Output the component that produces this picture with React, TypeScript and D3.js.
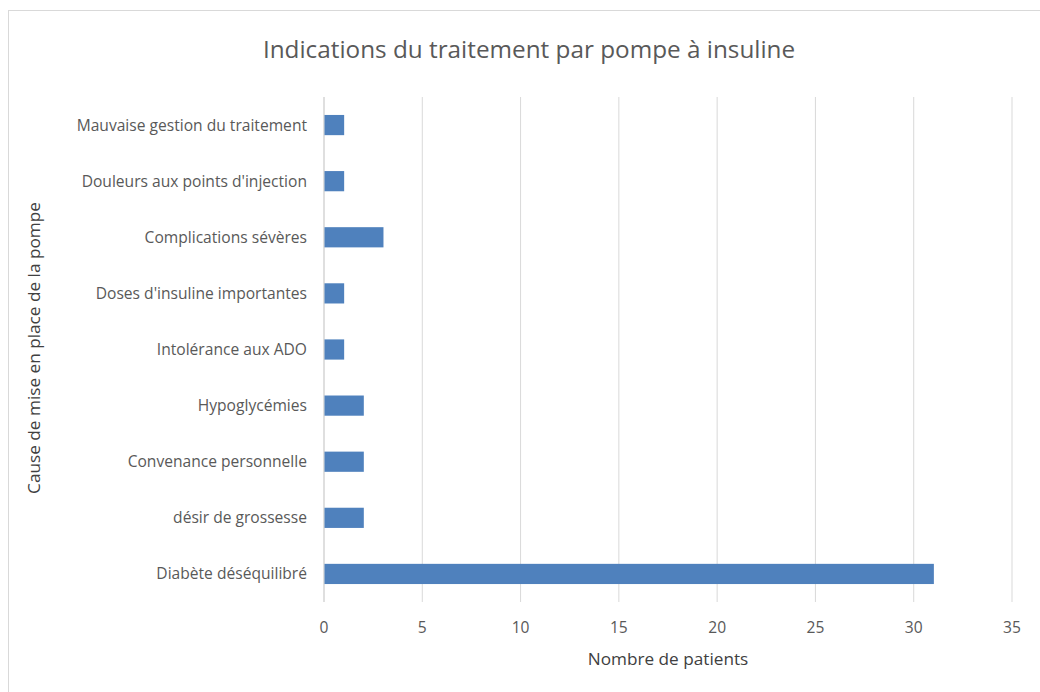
import React from "react";
import * as d3 from "d3";

const categories = [
  "Mauvaise gestion du traitement",
  "Douleurs aux points d'injection",
  "Complications sévères",
  "Doses d'insuline importantes",
  "Intolérance aux ADO",
  "Hypoglycémies",
  "Convenance personnelle",
  "désir de grossesse",
  "Diabète déséquilibré",
];
const values = [1, 1, 3, 1, 1, 2, 2, 2, 31];
const xTicks = [0, 5, 10, 15, 20, 25, 30, 35];

const title = "Indications du traitement par pompe à insuline";
const xTitle = "Nombre de patients";
const yTitle = "Cause de mise en place de la pompe";

export default function App() {
  const W = 1040, H = 692;
  const left = 324, right = 1012, top = 97, bottom = 602;
  const x = d3.scaleLinear().domain([0, 35]).range([left, right]);
  const y = d3.scaleBand<string>().domain(categories).range([top, bottom]).paddingInner(0.64).paddingOuter(0.32);
  const font = "'Open Sans', 'Liberation Sans', sans-serif";
  const txt = "#595959";
  return (
    <svg width={W} height={H} style={{ position: "absolute", left: 0, top: 0 }} fontFamily={font}>
      <rect x={8.5} y={10.5} width={1040} height={700} fill="#fff" stroke="#d9d9d9" />
      <text x={529} y={49} dy="0.35em" textAnchor="middle" fontSize={24.3} fill={txt}>{title}</text>
      {xTicks.map((t) => (
        <line key={t} x1={x(t)} x2={x(t)} y1={top} y2={bottom} stroke={t === 0 ? "#bfbfbf" : "#d9d9d9"} strokeWidth={1} />
      ))}
      {categories.map((c, i) => (
        <rect key={c} x={x(0) + 0.5} y={y(c)!} width={x(values[i]) - x(0)} height={y.bandwidth()} fill="#4f81bd" />
      ))}
      {categories.map((c) => (
        <text key={c} x={left - 17} y={y(c)! + y.bandwidth() / 2} dy="0.35em" textAnchor="end" fontSize={15.6} fill={txt}>{c}</text>
      ))}
      {xTicks.map((t) => (
        <text key={t} x={x(t)} y={628} dy="0.35em" textAnchor="middle" fontSize={15.6} fill={txt}>{t}</text>
      ))}
      <text x={668} y={659} dy="0.35em" textAnchor="middle" fontSize={17.2} fill="#404040">{xTitle}</text>
      <text transform={`translate(34,348) rotate(-90)`} dy="0.35em" textAnchor="middle" fontSize={17.2} fill="#404040">{yTitle}</text>
    </svg>
  );
}
